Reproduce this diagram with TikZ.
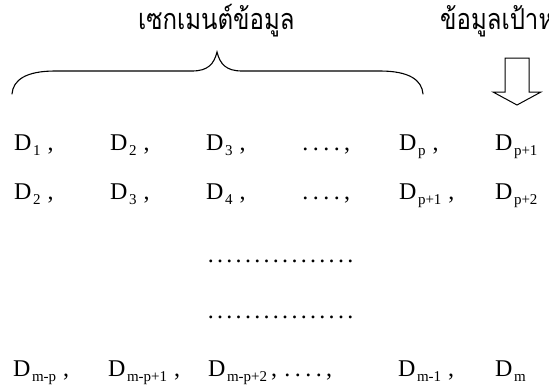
\documentclass[tikz,border=0pt]{standalone}
\usepackage{fontspec}
\setmainfont{Liberation Serif}
\newfontfamily\thaifont[Script=Thai]{Loma}
\newcommand\Dsb[1]{D\kern1.5pt\raisebox{-5pt}{\fontsize{15}{15}\selectfont #1}}
\newcommand\cm{\hspace{7pt},}
\newcommand\dotrow[2]{\foreach \i in {1,...,#1}{\makebox[#2][c]{.}}}
\begin{document}
\begin{tikzpicture}[x=1pt,y=-1pt,
  term/.style={anchor=base west, inner sep=0pt, font=\fontsize{24}{24}\selectfont},
  thai/.style={anchor=base west, inner sep=0pt, font=\thaifont\fontsize{24}{24}\selectfont},
  dotline/.style={anchor=base west, inner sep=0pt, font=\fontsize{24}{24}\selectfont},
  bracepath/.style={line width=1.1pt, line cap=round},
  hollowarrow/.style={line width=1pt, line join=miter, fill=white}]
\useasboundingbox (0,0) rectangle (549,388);
% headings
\node[thai] (seg) at (138,29) {\scalebox{1}[1.2]{เซกเมนต์ข้อมูล}};
\node[thai] (tgt) at (440,29) {\scalebox{1}[1.2]{ข้อมูลเป้าหมาย}};
% brace
\draw[bracepath] (12,94) .. controls (13,80) and (26,71) .. (55,71)
  -- (192,71) .. controls (208,71) and (214,64) .. (217,52)
  .. controls (220,64) and (226,71) .. (242,71)
  -- (380,71) .. controls (409,71) and (422,80) .. (423,94);
% hollow arrow
\draw[hollowarrow] (505,58) -- (529,58) -- (529,92) -- (541,92) -- (517,105)
  -- (493,92) -- (505,92) -- cycle;
% row 1
\node[term] (a1) at (14,150) {\Dsb{1}\cm};
\node[term] (a2) at (110,150) {\Dsb{2}\cm};
\node[term] (a3) at (206,150) {\Dsb{3}\cm};
\node[term] (a4) at (300,150) {\dotrow{4}{10.5pt}\hspace{2pt},};
\node[term] (a5) at (399,150) {\Dsb{p}\cm};
\node[term] (a6) at (495,150) {\Dsb{p+1}};
% row 2
\node[term] (b1) at (14,199) {\Dsb{2}\cm};
\node[term] (b2) at (110,199) {\Dsb{3}\cm};
\node[term] (b3) at (206,199) {\Dsb{4}\cm};
\node[term] (b4) at (300,199) {\dotrow{4}{10.5pt}\hspace{2pt},};
\node[term] (b5) at (399,199) {\Dsb{p+1}\cm};
\node[term] (b6) at (495,199) {\Dsb{p+2}};
% dotted rows
\node[dotline] (d1) at (206,262) {\dotrow{16}{9.3pt}};
\node[dotline] (d2) at (206,318) {\dotrow{16}{9.3pt}};
% last row
\node[term] (c1) at (13,376) {\Dsb{m-p}\cm};
\node[term] (c2) at (108,376) {\Dsb{m-p+1}\cm};
\node[term] (c3) at (208,376) {\Dsb{m-p+2}\hspace{4pt},\hspace{5pt}\dotrow{4}{10.5pt}\hspace{2pt},};
\node[term] (c5) at (398,376) {\Dsb{m-1}\cm};
\node[term] (c6) at (495,376) {\Dsb{m}};
\end{tikzpicture}
\end{document}
